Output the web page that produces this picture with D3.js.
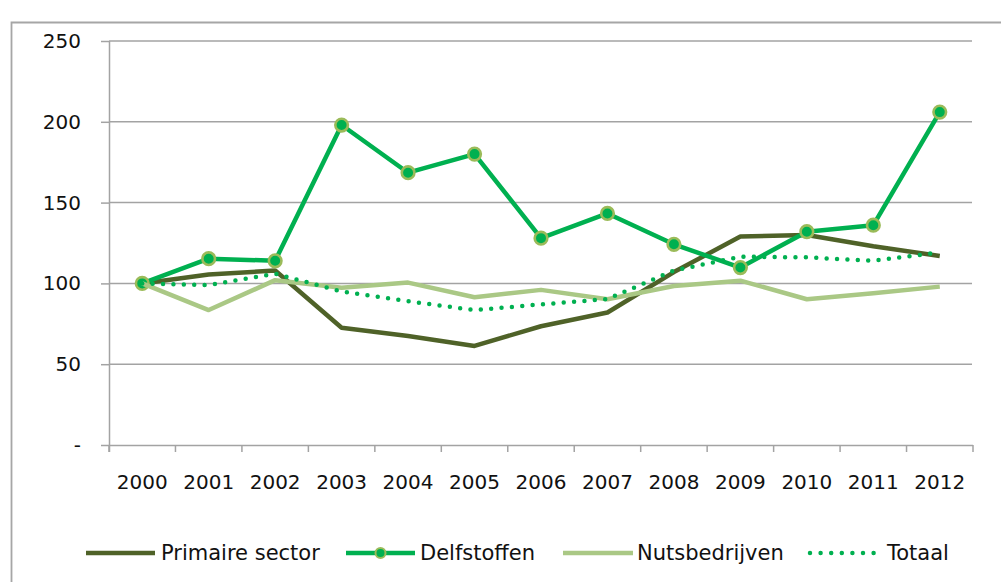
<!DOCTYPE html>
<html>
<head>
<meta charset="utf-8">
<script src="https://cdn.jsdelivr.net/npm/d3@7"></script>
<style>
  html, body { margin: 0; padding: 0; background: #fff; }
  svg { display: block; font-family: "DejaVu Sans", Verdana, sans-serif; }
</style>
</head>
<body>
<svg id="chart" width="1001" height="582"></svg>
<script>
const years = ["2000","2001","2002","2003","2004","2005","2006","2007","2008","2009","2010","2011","2012"];
const primaire = [100, 105.5, 108, 72.6, 67.4, 61.3, 73.5, 82, 107, 129, 130, 123, 117];
const delfstoffen = [100, 115.3, 114, 198, 168.5, 180, 128, 143.3, 124.2, 109.8, 132, 136, 206];
const nutsbedrijven = [100, 83.5, 102, 97.3, 100.5, 91.4, 96, 90.2, 98.4, 101.7, 90.2, 93.9, 98];
const totaal = [100, 99, 106, 95, 89, 83.5, 87, 90.3, 108, 116.5, 116.1, 114, 119.2];
const yTicks = [0, 50, 100, 150, 200, 250];
const seriesNames = ["Primaire sector", "Delfstoffen", "Nutsbedrijven", "Totaal"];

(function () {
const svg = d3.select("#chart");
const pLeft = 109, pRight = 973, pTop = 41, pBottom = 445;
const grid = "#a3a3a3";
const txt = "#111";

// frame
svg.append("path").attr("d", `M11.5,582 V22.5 H1001`).attr("fill", "none")
  .attr("stroke", "#a6a6a6").attr("stroke-width", 1.8);

const x = d3.scaleBand().domain(years).range([pLeft, pRight]).padding(0);
const y = d3.scaleLinear().domain([0, 250]).range([pBottom, pTop]);
const cx = d => x(d) + x.bandwidth() / 2;

// grid lines
svg.append("g").selectAll("line").data(yTicks.filter(t => t > 0)).join("line")
  .attr("x1", pLeft).attr("x2", pRight - 1)
  .attr("y1", d => y(d)).attr("y2", d => y(d))
  .attr("stroke", grid).attr("stroke-width", 1.5);

// y axis
const yAxis = svg.append("g").attr("transform", `translate(${pLeft},0)`)
  .call(d3.axisLeft(y).tickValues(yTicks).tickSize(8).tickPadding(20)
    .tickFormat(d => d === 0 ? "-" : d));
yAxis.select(".domain").attr("stroke", grid).attr("stroke-width", 1.5)
  .attr("d", `M0.5,${pTop} V${pBottom + 7}`);
yAxis.selectAll(".tick line").attr("stroke", grid).attr("stroke-width", 1.5);
yAxis.selectAll(".tick text").attr("font-size", 20).attr("fill", txt)
  .attr("font-family", "DejaVu Sans, Verdana, sans-serif");

// x axis
const xAxis = svg.append("g").attr("transform", `translate(0,${pBottom})`)
  .call(d3.axisBottom(x).tickSize(0).tickPadding(30));
xAxis.select(".domain").attr("stroke", grid).attr("stroke-width", 1.5)
  .attr("d", `M${pLeft},0.5 H${pRight}`);
xAxis.selectAll(".tick text").attr("font-size", 20).attr("fill", txt)
  .attr("font-family", "DejaVu Sans, Verdana, sans-serif");
const bounds = years.map(yr => x(yr)).concat([pRight]);
xAxis.append("g").selectAll("line").data(bounds).join("line")
  .attr("x1", d => d).attr("x2", d => d).attr("y1", 0).attr("y2", 7)
  .attr("stroke", grid).attr("stroke-width", 1.5);

const line = d3.line().x((d, i) => cx(years[i])).y(d => y(d));

const cPrim = "#4f6228", cDelf = "#00b050", cMark = "#9bbb59", cNuts = "#aac885";

svg.append("path").datum(primaire).attr("d", line).attr("fill", "none")
  .attr("stroke", cPrim).attr("stroke-width", 4.5).attr("stroke-linejoin", "round");
svg.append("path").datum(delfstoffen).attr("d", line).attr("fill", "none")
  .attr("stroke", cDelf).attr("stroke-width", 4.5).attr("stroke-linejoin", "round");
svg.append("g").selectAll("circle").data(delfstoffen).join("circle")
  .attr("cx", (d, i) => cx(years[i])).attr("cy", d => y(d)).attr("r", 6.3)
  .attr("fill", cDelf).attr("stroke", cMark).attr("stroke-width", 2.6);
svg.append("path").datum(nutsbedrijven).attr("d", line).attr("fill", "none")
  .attr("stroke", cNuts).attr("stroke-width", 4.5).attr("stroke-linejoin", "round");
svg.append("path").datum(totaal).attr("d", line).attr("fill", "none")
  .attr("stroke", cDelf).attr("stroke-width", 4.5).attr("stroke-linecap", "round")
  .attr("stroke-dasharray", "0 10.4");

// legend
const ly = 553;
const leg = svg.append("g");
const items = [
  {name: seriesNames[0], x1: 86, x2: 155, color: cPrim, tx: 161},
  {name: seriesNames[1], x1: 346, x2: 415, color: cDelf, tx: 420, marker: true},
  {name: seriesNames[2], x1: 563, x2: 633, color: cNuts, tx: 637},
  {name: seriesNames[3], x1: 810, x2: 874, color: cDelf, tx: 887, dotted: true}
];
items.forEach(it => {
  const l = leg.append("line").attr("x1", it.x1).attr("x2", it.x2).attr("y1", ly).attr("y2", ly)
    .attr("stroke", it.color).attr("stroke-width", 4.5);
  if (it.dotted) l.attr("stroke-linecap", "round").attr("stroke-dasharray", "0 10.6");
  if (it.marker) leg.append("circle").attr("cx", (it.x1 + it.x2) / 2).attr("cy", ly).attr("r", 5)
    .attr("fill", cDelf).attr("stroke", cMark).attr("stroke-width", 2);
  leg.append("text").attr("x", it.tx).attr("y", ly + 7).attr("font-size", 21)
    .attr("fill", txt).text(it.name);
});
})();
</script>
</body>
</html>
